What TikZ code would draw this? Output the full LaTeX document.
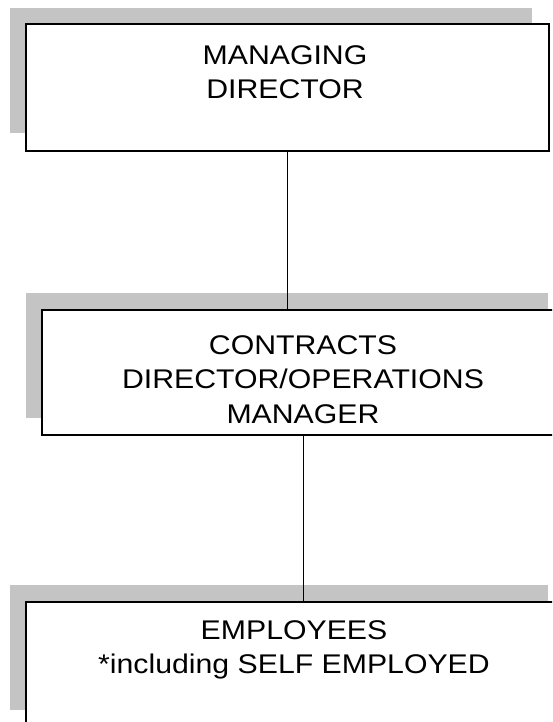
\documentclass[tikz,border=0pt]{standalone}
\usepackage{fontspec}
\setmainfont[FakeStretch=1.12]{Liberation Sans}
\definecolor{shadowgray}{RGB}{196,196,196}
\begin{document}
\begin{tikzpicture}[x=1pt,y=-1pt,
  shadowbox/.style={fill=shadowgray, draw=none},
  orgbox/.style={draw=black, line width=2pt, fill=white, anchor=north west, inner sep=0pt},
  orgtext/.style={align=center, anchor=north, inner sep=0pt, font=\fontsize{27}{34.5}\selectfont},
  link/.style={draw=black, line width=1.8pt}]
\useasboundingbox (0,0) rectangle (552,722);
\clip (0,0) rectangle (552,722);
% shadows
\fill[shadowbox] (10,8) rectangle (532,133);
\fill[shadowbox] (26,293) rectangle (548,418);
\fill[shadowbox] (10,585) rectangle (548,710);
% boxes
\node[orgbox, minimum width=523pt, minimum height=127pt] (md) at (25,23) {};
\node[orgbox, minimum width=523pt, minimum height=125pt] (cd) at (41,309) {};
\node[orgbox, minimum width=538pt, minimum height=125pt] (emp) at (25,601) {};
% texts
\node[orgtext] (mdt) at (285,45) {MANAGING\\DIRECTOR};
\node[orgtext] (cdt) at (303,335) {CONTRACTS\\DIRECTOR/OPERATIONS\\MANAGER};
\node[orgtext] (empt) at (294,620) {EMPLOYEES\\*including SELF EMPLOYED};
% connectors
\draw[link] (md.south) -- (cd.north -| md.south);
\draw[link] (cd.south) -- (emp.north -| cd.south);
\end{tikzpicture}
\end{document}
